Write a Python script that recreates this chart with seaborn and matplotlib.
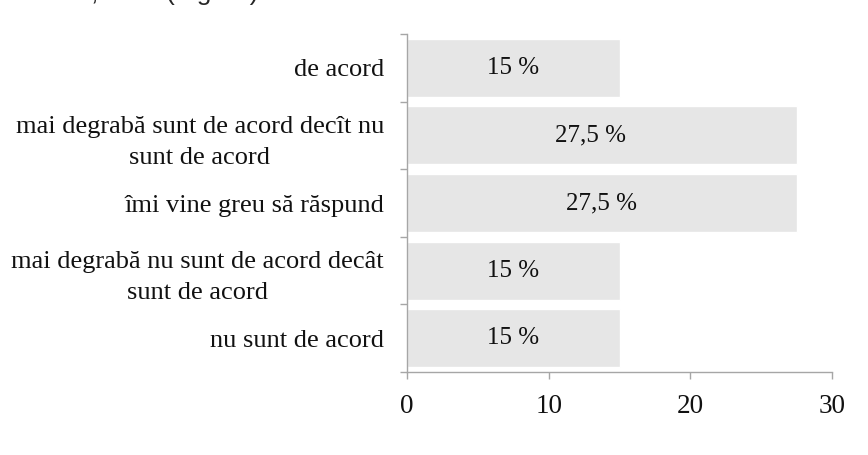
import matplotlib
matplotlib.use("Agg")
import matplotlib.pyplot as plt
import seaborn as sns
import pandas as pd
import numpy as np
from matplotlib.ticker import FixedLocator

# Survey answers (top to bottom) and their shares in percent
categories = [
    "de acord",
    "mai degrabă sunt de acord decît nu\nsunt de acord",
    "îmi vine greu să răspund",
    "mai degrabă nu sunt de acord decât\nsunt de acord",
    "nu sunt de acord",
]
percent = [15, 27.5, 27.5, 15, 15]
value_labels = ["15 %", "27,5 %", "27,5 %", "15 %", "15 %"]
x_ticks = [0, 10, 20, 30]
title = "Atitudinea elevilor, în % (Figura)"

# horizontal nudge (points) of each value label from its bar centre
label_nudge = [0, -8, 0, 0, 0]

sns.set_theme(style="white")
plt.rcParams["font.family"] = ["Liberation Serif", "DejaVu Serif"]

W, H = 868, 455
fig = plt.figure(figsize=(W / 100, H / 100), dpi=100)
ax = fig.add_axes([407 / W, 1 - 372 / H, (832 - 407) / W, (372 - 34) / H])

df = pd.DataFrame({"answer": categories, "share": percent})
sns.barplot(data=df, x="share", y="answer", orient="h", color="#e6e6e6",
            saturation=1, width=0.86, ax=ax)

texts = ax.bar_label(ax.containers[0], labels=value_labels, label_type="center",
                     fontsize=18, color="#111111")
for t, dx in zip(texts, label_nudge):
    x0, y0 = t.xyann
    t.xyann = (x0 + dx, y0)

ax.set_xlim(0, 30)
ax.set_xticks(x_ticks)
ax.set_xlabel("")
ax.set_ylabel("")

axis_grey = "#a6a6a6"
for side in ("top", "right"):
    ax.spines[side].set_visible(False)
for side in ("left", "bottom"):
    ax.spines[side].set_color(axis_grey)
    ax.spines[side].set_linewidth(1.0)

# category boundaries carry the tick marks, labels sit between them
ax.yaxis.set_minor_locator(FixedLocator(np.arange(-0.5, len(categories), 1.0)))
ax.tick_params(axis="y", which="major", length=0, pad=16.5, labelsize=19,
               labelcolor="#111111")
ax.tick_params(axis="y", which="minor", left=True, length=5, width=1.0,
               color=axis_grey, direction="out")
ax.tick_params(axis="x", which="major", bottom=True, length=5, width=1.0,
               color=axis_grey, direction="out", pad=11, labelsize=19.5,
               labelcolor="#111111")
for t in ax.get_yticklabels():
    t.set_multialignment("center")
    t.set_linespacing(1.55)

fig.text(259 / W, 1.0, title, ha="right", va="baseline", fontsize=19,
         family=["Liberation Sans", "DejaVu Sans"], color="#262626")

fig.savefig("out.png", dpi=100, facecolor="white")
